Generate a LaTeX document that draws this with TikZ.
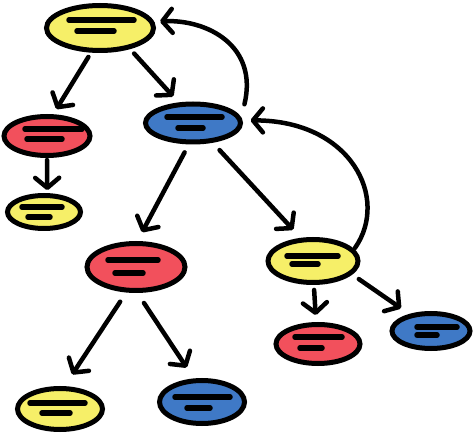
\documentclass[tikz,border=0pt]{standalone}
\usetikzlibrary{shapes.geometric,arrows.meta,calc}
\definecolor{cyel}{HTML}{F6EF68}
\definecolor{cred}{HTML}{F2505C}
\definecolor{cblu}{HTML}{3F79C6}
\tikzset{
 bubble/.style={ellipse, draw=black, line width=5pt, inner sep=0pt},
 bar/.style={line width=5.5pt, line cap=round},
 arr/.style={line width=4.5pt, line cap=round, -{Straight Barb[length=10pt,width=24pt,round]}},
}
\newcommand\bub[6]{\node[bubble, fill=#6, minimum width=#4pt, minimum height=#5pt] (#1) at (#2,#3) {};}
\newcommand\bars[7]{\draw[bar] ([shift={(#2,#4)}]#1.center) -- ([shift={(#3,#4)}]#1.center);
 \draw[bar] ([shift={(#5,#7)}]#1.center) -- ([shift={(#6,#7)}]#1.center);}
\begin{document}
\begin{tikzpicture}[x=1pt,y=-1pt]
\useasboundingbox (0,0) rectangle (474,438);
\bub{A}{100}{28}{107}{45}{cyel}
\bub{R1}{47}{136}{86}{39}{cred}
\bub{B}{193}{123}{95}{38}{cblu}
\bub{Y2}{44}{212}{73}{33}{cyel}
\bub{R2}{136}{267}{98}{47}{cred}
\bub{Y3}{313}{261}{90}{43}{cyel}
\bub{R3}{318}{344}{84}{39}{cred}
\bub{B2}{431}{331}{78}{35}{cblu}
\bub{Y4}{60}{409}{85}{41}{cyel}
\bub{B3}{202}{402}{85}{43}{cblu}
\bars{A}{-31}{34}{-8}{-23}{14}{3}
\bars{R1}{-22}{35}{-7}{-20}{15}{3}
\bars{B}{-26}{29}{-6}{-15}{10}{5}
\bars{Y2}{-22}{18}{-5}{-16}{6}{5}
\bars{R2}{-28}{22}{-7}{-21}{7}{6}
\bars{Y3}{-26}{25}{-5}{-21}{5}{3}
\bars{R3}{-23}{24}{-7}{-18}{4}{4}
\bars{B2}{-14}{26}{-4}{-14}{6}{4}
\bars{Y4}{-30}{25}{-6}{-18}{10}{4}
\bars{B3}{-27}{28}{-5}{-15}{8}{6}
\draw[arr, shorten <=5pt, shorten >=6pt] (A.250) -- (R1.74);
\draw[arr, shorten <=6pt, shorten >=8pt] (A.325) -- (B.125);
\draw[arr, shorten <=2pt, shorten >=3pt] (R1.south) -- (Y2.80);
\draw[arr, shorten <=9pt, shorten >=10pt] (B.259) -- (R2.87);
\draw[arr, shorten <=10pt, shorten >=11pt] (B.315) -- (Y3.118);
\draw[arr, shorten <=5pt, shorten >=7pt] (Y3.272) -- (R3.95);
\draw[arr, shorten <=8pt, shorten >=10pt] (Y3.341) -- (B2.142);
\draw[arr, shorten <=11pt, shorten >=14pt] (R2.249) -- (Y4.79);
\draw[arr, shorten <=12pt, shorten >=13pt] (R2.273) -- (B3.109);
\draw[arr] ([xshift=15pt,yshift=4pt]B.22) .. controls +(14,-58) and +(48,-2) .. ([xshift=6pt]A.7);
\draw[arr] ([xshift=2pt]Y3.18) .. controls +(35,-50) and +(100,0) .. ([xshift=8pt]B.3);
\end{tikzpicture}
\end{document}
